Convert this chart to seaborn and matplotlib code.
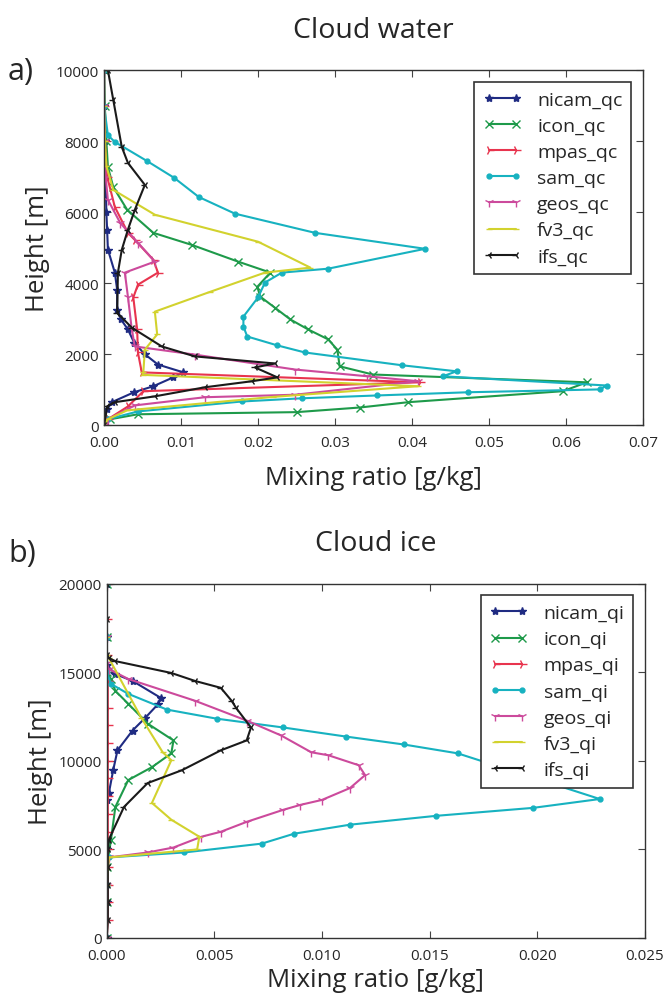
import numpy as np
import pandas as pd
import matplotlib.pyplot as plt
import seaborn as sns

# ---- cloud water (g/kg) vs height (m), top -> surface
nicam_qc_h = [10000, 9000, 8000, 7000, 6000, 5500, 4950, 4300, 3820, 3260, 2980, 2700, 2330, 2000, 1710, 1490, 1350, 1100, 930, 650, 450, 200, 0]
nicam_qc = [0, 0, 0.0001, 0.0002, 0.0003, 0.0004, 0.0005, 0.0014, 0.0017, 0.0017, 0.0022, 0.0031, 0.0039, 0.0053, 0.007, 0.0103, 0.009, 0.0064, 0.0039, 0.001, 0.0004, 0.0001, 0]

icon_qc_h = [10000, 9000, 8000, 7280, 6710, 6070, 5420, 5080, 4610, 4300, 3900, 3620, 3310, 2980, 2700, 2420, 2130, 1660, 1430, 1210, 960, 650, 500, 370, 310, 170, 0]
icon_qc = [0, 0.0001, 0.0003, 0.0005, 0.0012, 0.003, 0.0064, 0.0114, 0.0174, 0.0216, 0.0199, 0.0203, 0.0222, 0.0242, 0.0265, 0.0291, 0.0303, 0.0306, 0.0349, 0.0627, 0.0596, 0.0395, 0.0332, 0.025, 0.0044, 0.0008, 0]

mpas_qc_h = [10000, 9000, 8000, 7000, 6150, 5420, 5220, 4660, 4300, 3960, 3600, 2700, 2050, 1490, 1210, 960, 530, 170, 0]
mpas_qc = [0, 0, 0.0001, 0.0004, 0.0014, 0.0031, 0.004, 0.0064, 0.007, 0.0044, 0.0038, 0.0043, 0.0044, 0.0049, 0.041, 0.0051, 0.0031, 0.0005, 0]

sam_qc_h = [10000, 9000, 8170, 7980, 7440, 6970, 6430, 5960, 5420, 4970, 4410, 4300, 4020, 3600, 3060, 2780, 2500, 2250, 2050, 1690, 1520, 1380, 1120, 1010, 930, 840, 760, 670, 390, 170, 0]
sam_qc = [0, 0, 0.0005, 0.0014, 0.0056, 0.0091, 0.0123, 0.017, 0.0274, 0.0417, 0.0291, 0.0231, 0.0209, 0.02, 0.0181, 0.0181, 0.0186, 0.0225, 0.0261, 0.0387, 0.0458, 0.044, 0.0653, 0.0644, 0.0473, 0.0355, 0.0257, 0.0179, 0.0044, 0.0005, 0]

geos_qc_h = [10000, 9000, 8000, 7000, 6350, 5700, 5140, 4610, 4300, 3620, 2700, 2220, 1990, 1570, 1380, 1240, 860, 790, 560, 170, 0]
geos_qc = [0, 0, 0.0001, 0.0002, 0.0005, 0.0021, 0.0044, 0.0066, 0.0027, 0.0031, 0.0036, 0.004, 0.0118, 0.0248, 0.0342, 0.0408, 0.0248, 0.0131, 0.004, 0.0005, 0]

fv3_qc_h = [10000, 9000, 8000, 7300, 6630, 5930, 5170, 4440, 4300, 3760, 3200, 2560, 2130, 1490, 1420, 1100, 800, 420, 170, 0]
fv3_qc = [0, 0, 0.0001, 0.0003, 0.0012, 0.0066, 0.02, 0.0268, 0.0209, 0.0138, 0.0066, 0.0069, 0.0053, 0.0051, 0.005, 0.0408, 0.022, 0.003, 0.0005, 0]

ifs_qc_h = [10000, 9160, 7840, 7390, 6770, 6070, 5510, 4940, 4300, 3170, 2750, 2220, 1940, 1740, 1630, 1350, 1240, 1070, 815, 650, 530, 0]
ifs_qc = [0.0005, 0.0012, 0.0023, 0.0031, 0.0053, 0.004, 0.0031, 0.0023, 0.0018, 0.0017, 0.0036, 0.0075, 0.0118, 0.0222, 0.0196, 0.0225, 0.0192, 0.0131, 0.0066, 0.0014, 0.0004, 0]

# ---- cloud ice (g/kg) vs height (m)
nicam_qi_h = [20000, 17000, 15400, 14900, 14510, 13560, 13220, 12440, 11710, 10590, 9470, 8180, 7800, 5000, 2000, 0]
nicam_qi = [0, 0, 0, 0.0004, 0.0012, 0.0025, 0.0024, 0.0018, 0.0012, 0.0005, 0.0003, 0.0001, 0, 0, 0, 0]

icon_qi_h = [20000, 17000, 15000, 14620, 13950, 13220, 12100, 11150, 10420, 9640, 8910, 7390, 5550, 4000, 2000, 0]
icon_qi = [0, 0, 0, 0.0002, 0.0004, 0.001, 0.0019, 0.0031, 0.003, 0.0021, 0.001, 0.0004, 0.0002, 0, 0, 0]

mpas_qi_h = [20000, 18000, 16000, 14500, 13000, 12000, 11000, 10000, 9000, 8000, 7000, 6000, 5000, 4000, 3000, 2000, 1000, 0]
mpas_qi = [0, 0, 0, 0.00005, 0.00005, 0.00005, 0.00005, 0.00005, 0.00005, 0.00005, 0.00005, 0.00005, 0.00005, 0.00005, 0.00005, 0.00005, 0.00005, 0]

sam_qi_h = [20000, 17000, 15000, 14340, 13780, 12890, 12380, 11880, 11370, 10920, 10420, 7840, 7340, 6890, 6390, 5880, 5320, 4820, 4540, 3000, 0]
sam_qi = [0, 0, 0, 0.0002, 0.001, 0.0028, 0.0051, 0.0082, 0.0111, 0.0138, 0.0163, 0.0229, 0.0198, 0.0153, 0.0113, 0.0087, 0.0072, 0.0036, 0.0001, 0, 0]

geos_qi_h = [20000, 17000, 15500, 15180, 14620, 13390, 12270, 11430, 10480, 10310, 9750, 9190, 8460, 7790, 7510, 7230, 6550, 5990, 5710, 5100, 4820, 4540, 3000, 0]
geos_qi = [0, 0, 0, 0.0001, 0.001, 0.0041, 0.0065, 0.0081, 0.0095, 0.0103, 0.0117, 0.012, 0.0113, 0.01, 0.009, 0.0082, 0.0065, 0.0053, 0.0044, 0.0031, 0.0019, 0.0001, 0, 0]

fv3_qi_h = [20000, 17000, 16000, 15800, 12440, 10480, 10030, 7620, 6670, 5710, 4990, 4540, 3000, 0]
fv3_qi = [0, 0, 0, 0.0001, 0.0016, 0.0026, 0.003, 0.0021, 0.003, 0.0043, 0.0042, 0.0001, 0, 0]

ifs_qi_h = [20000, 18000, 16000, 15800, 15630, 14960, 14510, 14120, 13390, 13000, 11880, 11150, 10590, 9470, 8740, 7390, 5550, 5000, 4000, 3000, 2000, 1000, 0]
ifs_qi = [0, 0, 0, 0.0001, 0.0004, 0.003, 0.0041, 0.0053, 0.0058, 0.006, 0.0067, 0.0065, 0.0053, 0.0035, 0.0019, 0.0008, 0.0001, 0.00005, 0.00005, 0.00005, 0.00005, 0.00005, 0]

names = ['nicam', 'icon', 'mpas', 'sam', 'geos', 'fv3', 'ifs']
colors = ['#1f2b82', '#1e9a4a', '#e8344e', '#17b2c0', '#cc4a9c', '#d2d22e', '#1a1a1a']
markers = ['*', 'x', '4', 'o', '1', '_', '3']
msizes = [6, 6, 7, 3.5, 7, 4, 6]

qc = [(nicam_qc_h, nicam_qc), (icon_qc_h, icon_qc), (mpas_qc_h, mpas_qc), (sam_qc_h, sam_qc),
      (geos_qc_h, geos_qc), (fv3_qc_h, fv3_qc), (ifs_qc_h, ifs_qc)]
qi = [(nicam_qi_h, nicam_qi), (icon_qi_h, icon_qi), (mpas_qi_h, mpas_qi), (sam_qi_h, sam_qi),
      (geos_qi_h, geos_qi), (fv3_qi_h, fv3_qi), (ifs_qi_h, ifs_qi)]

sns.set_style('ticks', {'xtick.direction': 'in', 'ytick.direction': 'in'})
plt.rcParams['font.family'] = ['Open Sans', 'DejaVu Sans']
plt.rcParams['xtick.top'] = True
plt.rcParams['ytick.right'] = True

fig = plt.figure(figsize=(6.67, 10.03), dpi=100)
ax1 = fig.add_axes([0.156, 0.575, 0.808, 0.354])
ax2 = fig.add_axes([0.160, 0.064, 0.807, 0.353])


def draw(ax, data, suffix, lpad):
    for i, (h, v) in enumerate(data):
        df = pd.DataFrame({'mix': v, 'height': h})
        sns.lineplot(data=df, x='mix', y='height', sort=False, estimator=None, ax=ax,
                     color=colors[i], marker=markers[i], markersize=msizes[i],
                     markeredgecolor=colors[i], markerfacecolor=colors[i],
                     markeredgewidth=1.0, linewidth=1.5, label=names[i] + suffix)
    hd, lb = ax.get_legend_handles_labels()
    leg = ax.legend(hd, lb, loc='upper right', numpoints=2, fontsize=14, frameon=True,
                    fancybox=False, edgecolor='#333333', framealpha=1,
                    labelspacing=0.42, handlelength=2.0, borderpad=0.45,
                    borderaxespad=0.6)
    leg.get_frame().set_linewidth(1.2)
    ax.set_xlabel('Mixing ratio [g/kg]', fontsize=18.5, labelpad=lpad)
    ax.set_ylabel('Height [m]', fontsize=18.5, labelpad=4)
    ax.tick_params(labelsize=11, length=5, color='#444444')
    ax.tick_params(axis='x', pad=7)
    for s in ax.spines.values():
        s.set_color('#333333')
        s.set_linewidth(1.0)


draw(ax1, qc, '_qc', 11)
ax1.set_xlim(0, 0.07)
ax1.set_ylim(0, 10000)
ax1.set_xticks(np.arange(0, 0.0701, 0.01))
ax1.set_xticklabels(['%.2f' % t for t in np.arange(0, 0.0701, 0.01)])
ax1.set_yticks(np.arange(0, 10001, 2000))
ax1.set_title('Cloud water', fontsize=20.5, pad=24)

draw(ax2, qi, '_qi', 3)
ax2.set_xlim(0, 0.025)
ax2.set_ylim(0, 20000)
ax2.set_xticks(np.arange(0, 0.02501, 0.005))
ax2.set_xticklabels(['%.3f' % t for t in np.arange(0, 0.02501, 0.005)])
ax2.set_yticks(np.arange(0, 20001, 5000))
ax2.set_title('Cloud ice', fontsize=20.5, pad=24)

fig.text(0.012, 0.92, 'a)', fontsize=22)
fig.text(0.012, 0.44, 'b)', fontsize=22)

fig.savefig('out.png', dpi=100)
